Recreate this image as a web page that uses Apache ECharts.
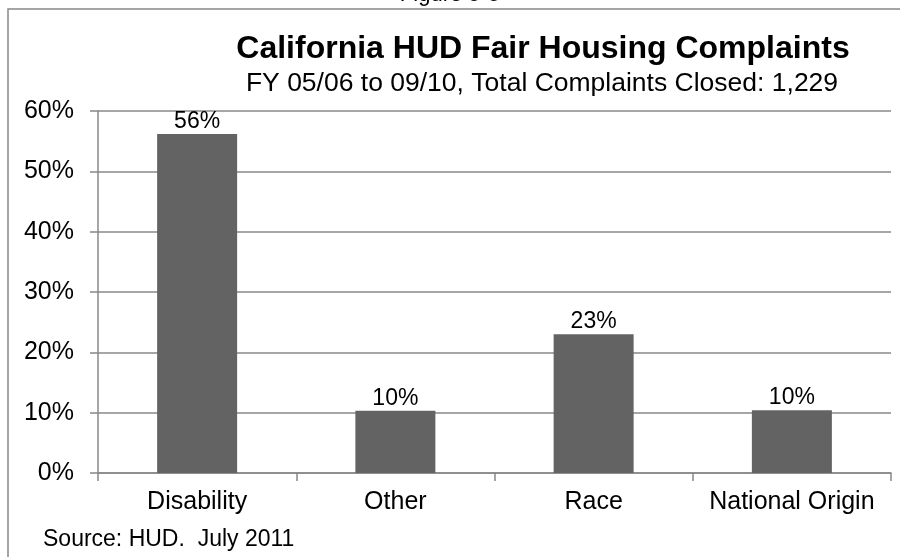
<!DOCTYPE html>
<html>
<head>
<meta charset="utf-8">
<script src="https://cdn.jsdelivr.net/npm/echarts@6/dist/echarts.min.js"></script>
<style>
  html, body { margin: 0; padding: 0; background: #fff; }
  #main { width: 900px; height: 557px; }
</style>
</head>
<body>
<div id="main"></div>
<script>
// data
const categories = ['Disability', 'Other', 'Race', 'National Origin']
const shares = [56.2, 10.3, 23.0, 10.4]
const yTicks = [0, 10, 20, 30, 40, 50, 60]

const font = 'Liberation Sans, Arial, sans-serif'
const gray = '#888888'

const chart = echarts.init(document.getElementById('main'))

const option = {
  animation: false,
  backgroundColor: '#fff',
  textStyle: { fontFamily: font },
  title: [
    {
      text: 'California HUD Fair Housing Complaints',
      left: 538,
      textAlign: 'center',
      top: 28,
      textStyle: { fontFamily: font, fontSize: 32, fontWeight: 'bold', color: '#000' }
    },
    {
      text: 'FY 05/06 to 09/10, Total Complaints Closed: 1,229',
      left: 537,
      textAlign: 'center',
      top: 65,
      textStyle: { fontFamily: font, fontSize: 26.5, fontWeight: 'normal', color: '#000' }
    }
  ],
  graphic: [
    {
      // outer frame of the figure, cut off at right and bottom
      type: 'rect',
      shape: { x: 8, y: 9, width: 1000, height: 700 },
      style: { fill: null, stroke: gray, lineWidth: 1.5 },
      silent: true
    },
    {
      type: 'text',
      left: 'center',
      top: -16,
      style: { text: 'Figure 5-5', font: '22px ' + font, fill: '#000' }
    },
    {
      type: 'text',
      left: 43,
      top: 528,
      style: { text: 'Source: HUD.  July 2011', font: '23px ' + font, fill: '#000' }
    }
  ],
  grid: { left: 98, right: 9, top: 111, bottom: 84 },
  xAxis: {
    type: 'category',
    data: categories,
    axisLine: { lineStyle: { color: gray, width: 1.5 } },
    axisTick: { show: true, alignWithLabel: false, length: 8, lineStyle: { color: gray, width: 1.5 } },
    axisLabel: { color: '#000', fontSize: 25, fontFamily: font, margin: 17, interval: 0 }
  },
  yAxis: {
    type: 'value',
    min: yTicks[0],
    max: yTicks[yTicks.length - 1],
    interval: 10,
    axisLine: { show: true, lineStyle: { color: gray, width: 1.5 } },
    axisTick: { show: true, length: 8, lineStyle: { color: gray, width: 1.5 } },
    splitLine: { show: true, lineStyle: { color: gray, width: 1.5 } },
    axisLabel: { color: '#000', fontSize: 25, fontFamily: font, margin: 24, formatter: '{value}%' }
  },
  series: [
    {
      type: 'bar',
      data: shares,
      barWidth: 80,
      itemStyle: { color: '#636363' },
      label: {
        show: true,
        position: 'top',
        distance: 1,
        color: '#000',
        fontSize: 23,
        fontFamily: font,
        formatter: (p) => Math.round(p.value) + '%'
      }
    }
  ]
}

chart.setOption(option)
</script>
</body>
</html>
